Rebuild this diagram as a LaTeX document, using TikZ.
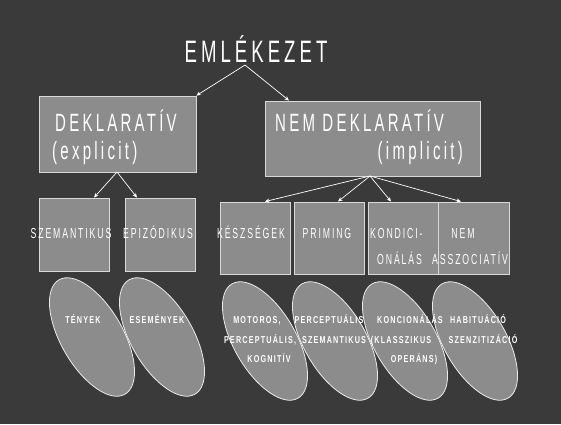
\documentclass[tikz,border=0pt]{standalone}
\usepackage{fontspec}
\usetikzlibrary{arrows.meta,shapes.geometric}
\newfontfamily\slidefont[FakeStretch=0.6,LetterSpace=13]{Liberation Sans}
\newfontfamily\blobfont[FakeStretch=0.72,LetterSpace=12]{Liberation Sans}
\definecolor{slidebg}{HTML}{3A3A3A}
\definecolor{boxfill}{HTML}{8C8C8C}
\definecolor{boxline}{HTML}{D8D8D8}

\begin{document}
\begin{tikzpicture}[x=1pt,y=-1pt,
    box/.style={draw=boxline,fill=boxfill,line width=0.9pt,inner sep=0pt},
    blob/.style={draw=white!92!black,fill=boxfill,line width=0.8pt,ellipse,inner sep=0pt,
        minimum width=132pt,minimum height=62pt,rotate=-60},
    arr/.style={draw=white,line width=0.7pt,-{Stealth[length=4.5pt,width=4pt]}},
    txt/.style={text=white,inner sep=0pt}]
    \fill[slidebg] (0,0) rectangle (561,424);
    \useasboundingbox (0,0) rectangle (561,424);

    % boxes
    \node[box,minimum width=157pt,minimum height=76pt] (dekl) at (117.5,134) {};
    \node[box,minimum width=215pt,minimum height=75pt] (nemdekl) at (372.5,138.5) {};
    \node[box,minimum width=70pt,minimum height=73pt] (szem) at (74,234.5) {};
    \node[box,minimum width=70pt,minimum height=73pt] (epiz) at (160.5,234.5) {};
    \node[box,minimum width=70pt,minimum height=72pt] (kesz) at (255,238) {};
    \node[box,minimum width=70pt,minimum height=72pt] (prim) at (329,238) {};
    \node[box,minimum width=70pt,minimum height=72pt] (kond) at (403,238) {};
    \node[box,minimum width=71pt,minimum height=72pt] (nemassz) at (473.5,238) {};

    % ellipses
    \node[blob] (tenyek) at (92,337) {};
    \node[blob] (esem) at (162,337) {};
    \node[blob] (motor) at (265,341) {};
    \node[blob] (perc) at (335,341) {};
    \node[blob] (koncio) at (405,341) {};
    \node[blob] (habit) at (475,341) {};

    % arrows
    \coordinate (top) at (245,65);
    \coordinate (deklbot) at (117,172);
    \coordinate (nembot) at (370,176);
    \draw[arr] (top) -- (dekl.north east);
    \draw[arr] (top) -- ([xshift=-83.5pt]nemdekl.north);
    \draw[arr] (deklbot) -- ([xshift=20pt]szem.north);
    \draw[arr] (deklbot) -- ([xshift=-23.5pt]epiz.north);
    \draw[arr] (nembot) -- ([xshift=10pt]kesz.north);
    \draw[arr] (nembot) -- ([xshift=9pt]prim.north);
    \draw[arr] (nembot) -- ([xshift=-12pt]kond.north);
    \draw[arr] (nembot) -- ([xshift=-12.5pt]nemassz.north);

    % texts
    \node[txt,anchor=base,font=\slidefont\fontsize{31}{31}\selectfont] (emlek) at (256,62) {EMLÉKEZET};
    \node[txt,anchor=base west,font=\slidefont\fontsize{25}{25}\selectfont] (dekltxt) at (55,131) {DEKLARATÍV};
    \node[txt,anchor=base west,font=\slidefont\fontsize{25}{25}\selectfont] (expl) at (52,159) {(explicit)};
    \node[txt,anchor=base west,font=\slidefont\fontsize{25}{25}\selectfont] (nemtxt) at (275,131) {NEM DEKLARATÍV};
    \node[txt,anchor=base east,font=\slidefont\fontsize{25}{25}\selectfont] (impl) at (463,159) {(implicit)};

    \begin{scope}[font=\slidefont\fontsize{14.5}{14.5}\selectfont]
        \node[txt,anchor=base] (szemtxt) at (71,238) {SZEMANTIKUS};
        \node[txt,anchor=base] (epiztxt) at (158,238) {EPIZÓDIKUS};
        \node[txt,anchor=base] (kesztxt) at (251,238) {KÉSZSÉGEK};
        \node[txt,anchor=base] (primtxt) at (327,238) {PRIMING};
        \node[txt,anchor=base west] (kondtxt) at (370,238) {KONDICI-};
        \node[txt,anchor=base west] (onatxt) at (377,264) {ONÁLÁS};
        \node[txt,anchor=base] (nemtxt2) at (463,238) {NEM};
        \node[txt,anchor=base west] (assztxt) at (432,264) {ASSZOCIATÍV};
    \end{scope}

    \begin{scope}[font=\blobfont\bfseries\fontsize{10}{10}\selectfont]
        \node[txt,anchor=base] (t1) at (83,323.5) {TÉNYEK};
        \node[txt,anchor=base] (t2) at (157,323.5) {ESEMÉNYEK};
        \node[txt,anchor=base] (t3a) at (257,323.5) {MOTOROS,};
        \node[txt,anchor=base] (t3b) at (260,343.5) {PERCEPTUÁLIS,};
        \node[txt,anchor=base] (t3c) at (269,362.5) {KOGNITÍV};
        \node[txt,anchor=base] (t4a) at (329,323.5) {PERCEPTUÁLIS};
        \node[txt,anchor=base] (t4b) at (334,343.5) {SZEMANTIKUS};
        \node[txt,anchor=base] (t5a) at (410,323.5) {KONCIONÁLÁS};
        \node[txt,anchor=base] (t5b) at (401,343.5) {(KLASSZIKUS};
        \node[txt,anchor=base] (t5c) at (414,362.5) {OPERÁNS)};
        \node[txt,anchor=base] (t6a) at (478,323.5) {HABITUÁCIÓ};
        \node[txt,anchor=base] (t6b) at (483,343.5) {SZENZITIZÁCIÓ};
    \end{scope}
\end{tikzpicture}
\end{document}
